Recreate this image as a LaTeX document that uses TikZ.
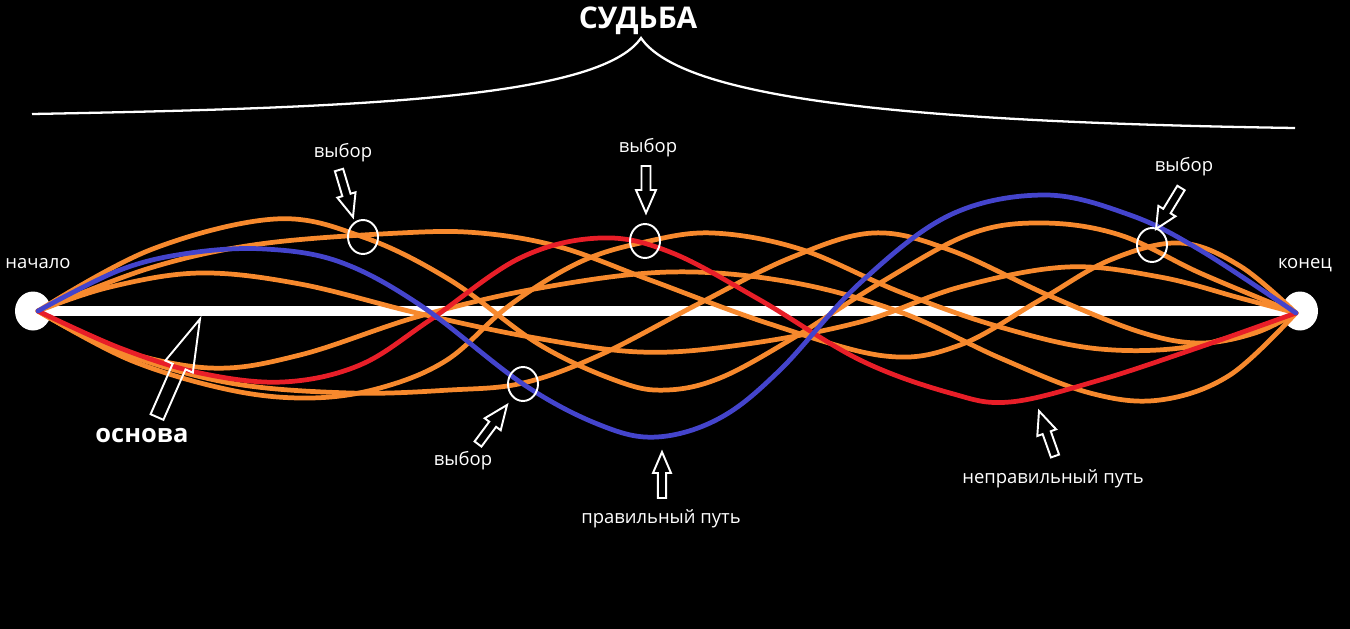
\documentclass[tikz,border=0pt]{standalone}
\usepackage{fontspec}
\setmainfont{Open Sans}
\usetikzlibrary{calc,shapes.geometric}
\definecolor{orng}{RGB}{247,137,45}
\definecolor{rd}{RGB}{232,30,40}
\definecolor{bl}{RGB}{68,68,204}
\newcommand{\hollowarr}[5]{%
  \coordinate (hb) at ($(#2)!#5!(#1)$);
  \draw[hollow] ($(#1)!#3!90:(#2)$) -- ($(hb)!#3!90:(#2)$) -- ($(hb)!#4!90:(#2)$) -- (#2)
    -- ($(hb)!#4!-90:(#2)$) -- ($(hb)!#3!-90:(#2)$) -- ($(#1)!#3!-90:(#2)$) -- cycle;}
\tikzset{
  lbl/.style={text=white, inner sep=0pt, font=\fontsize{10.5}{12}\selectfont},
  hollow/.style={draw=white, line width=1.1pt, line join=miter},
  choice/.style={draw=white, line width=1.1pt, ellipse, inner sep=0pt, minimum width=6mm, minimum height=6.8mm},
  endpt/.style={fill=white, ellipse, inner sep=0pt, minimum width=7.2mm, minimum height=7.8mm},
  baseln/.style={white, line width=5.4pt},
  path/.style={line width=2.7pt, line cap=round, line join=round},
  brace/.style={white, line width=1.3pt},
}
\begin{document}
\begin{tikzpicture}[x=0.02cm, y=-0.02cm]
\fill[black] (0,0) rectangle (1350,629);
\useasboundingbox (0,0) rectangle (1350,629);

% brace
\coordinate (bl0) at (32,114);
\coordinate (cusp) at (641,38);
\coordinate (br0) at (1295,128);
\draw[brace] (bl0) .. controls (360,108) and (600,98) .. (cusp) .. controls (682,98) and (900,122) .. (br0);
\node[lbl, font=\bfseries\fontsize{17}{20}\selectfont] (fate) at (638,21) {СУДЬБА};

% end points and base
\node[endpt] (S0) at (33,311) {};
\node[endpt] (E0) at (1300,311) {};
\coordinate (S) at (38,311);
\coordinate (E) at (1296,313);
\draw[baseln] (S0.center) -- (E0.center);

% orange paths
\draw[path, orng] plot[smooth, tension=0.6] coordinates {(S) (150,268) (260,244) (400,233) (480,233) (560,247) (650,280) (770,324) (885,356) (960,345) (1040,300) (1110,260) (1180,243) (1240,266) (E)};
\draw[path, orng] plot[smooth, tension=0.6] coordinates {(S) (150,250) (275,219) (363,237) (450,280) (540,345) (620,382) (667,390) (720,378) (790,340) (880,283) (970,234) (1043,223) (1120,235) (1200,273) (E)};
\draw[path, orng] plot[smooth, tension=0.6] coordinates {(S) (110,287) (200,273) (300,284) (417,313) (530,337) (640,352) (740,345) (860,322) (960,287) (1067,267) (1160,277) (1240,298) (E)};
\draw[path, orng] plot[smooth, tension=0.6] coordinates {(S) (110,347) (210,368) (300,355) (420,316) (540,288) (670,272) (790,282) (900,312) (1000,358) (1090,393) (1160,400) (1230,375) (E)};
\draw[path, orng] plot[smooth, tension=0.6] coordinates {(S) (120,352) (230,383) (350,393) (450,390) (523,383) (600,355) (700,303) (790,258) (873,233) (950,250) (1050,296) (1140,332) (1200,343) (1255,333) (E)};
\draw[path, orng] plot[smooth, tension=0.6] coordinates {(S) (130,360) (230,390) (310,398) (380,388) (447,360) (510,305) (580,262) (645,242) (713,233) (800,249) (900,292) (1000,327) (1100,349) (1200,345) (E)};

% red path (wrong)
\draw[path, rd] plot[smooth, tension=0.6] coordinates {(S) (120,348) (200,373) (283,382) (360,365) (430,320) (520,258) (600,238) (670,252) (760,300) (860,360) (950,393) (1010,402) (1100,380) (1200,347) (E)};
% blue path (right)
\draw[path, bl] plot[smooth, tension=0.6] coordinates {(S) (120,270) (190,253) (265,249) (340,262) (420,305) (523,384) (600,425) (657,437) (720,418) (780,370) (860,283) (950,215) (1045,195) (1130,215) (1200,250) (E)};

% choice circles
\node[choice] (ch1) at (363,237) {};
\node[choice] (ch2) at (645,241) {};
\node[choice] (ch3) at (523,384) {};
\node[choice] (ch4) at (1152,245) {};

% labels
\node[lbl] (start) at (38,264) {начало};
\node[lbl] (finish) at (1305,265) {конец};
\node[lbl, font=\bfseries\fontsize{14.5}{17}\selectfont] (base) at (142,436) {основа};
\node[lbl] (v1) at (343,153) {выбор};
\node[lbl] (v2) at (648,148) {выбор};
\node[lbl] (v3) at (1184,167) {выбор};
\node[lbl] (v4) at (463,461) {выбор};
\node[lbl] (right) at (661,519) {правильный путь};
\node[lbl] (wrong) at (1053,479) {неправильный путь};

% hollow arrows
\coordinate (a1t) at (157,417); \coordinate (a1h) at (200,319);
\hollowarr{a1t}{a1h}{1.4mm}{3mm}{10.4mm}
\coordinate (a2t) at (339,170); \coordinate (a2h) at (353,217);
\hollowarr{a2t}{a2h}{0.86mm}{1.9mm}{4.6mm}
\coordinate (a3t) at (646,166); \coordinate (a3h) at (646,213);
\hollowarr{a3t}{a3h}{0.9mm}{2mm}{4.6mm}
\coordinate (a4t) at (1181,188); \coordinate (a4h) at (1156,229);
\hollowarr{a4t}{a4h}{0.86mm}{2mm}{4.2mm}
\coordinate (a5t) at (478,444); \coordinate (a5h) at (507,405);
\hollowarr{a5t}{a5h}{0.86mm}{2mm}{4.8mm}
\coordinate (a6t) at (662,498); \coordinate (a6h) at (662,452);
\hollowarr{a6t}{a6h}{0.84mm}{1.8mm}{4.2mm}
\coordinate (a7t) at (1055,456); \coordinate (a7h) at (1039,411);
\hollowarr{a7t}{a7h}{0.86mm}{2mm}{4.6mm}
\end{tikzpicture}
\end{document}
